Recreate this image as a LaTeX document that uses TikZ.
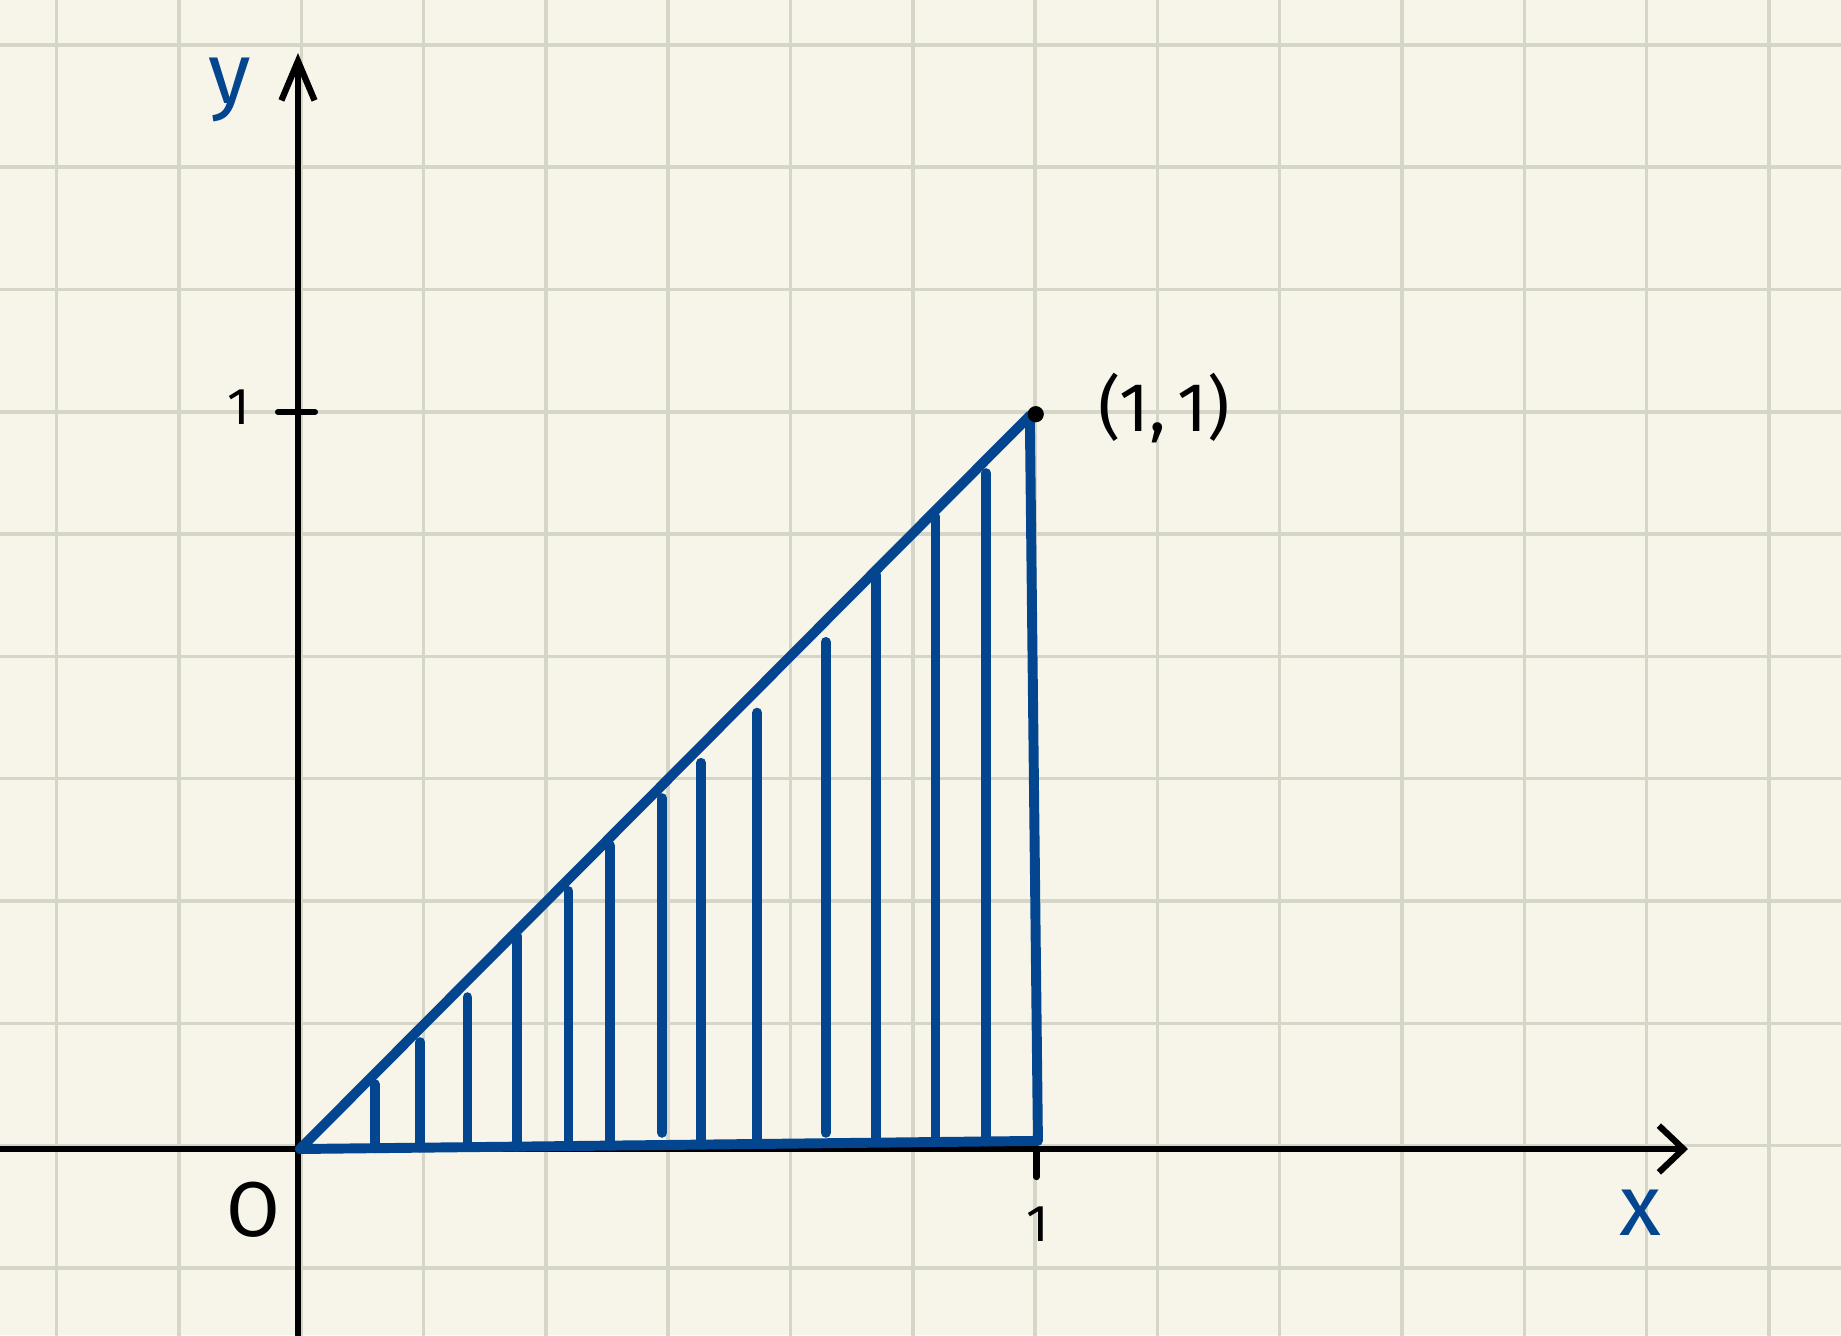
\documentclass[tikz,border=0pt]{standalone}
\usepackage{fontspec}
\setmainfont{Fira Sans}
\usetikzlibrary{arrows.meta}
\definecolor{paper}{HTML}{F7F5EA}
\definecolor{gridgray}{HTML}{D6D6C8}
\definecolor{inkblue}{HTML}{03468F}

\begin{document}
\begin{tikzpicture}[x=6cm,y=6cm,
    gridline/.style={gridgray, line width=0.8pt},
    axis/.style={black, line width=1.45pt, line cap=round, line join=round},
    region/.style={inkblue, line width=2.3pt, line cap=round, line join=round},
    hatch/.style={inkblue, line width=2.3pt, line cap=round},
    ink/.style={black, font=\fontsize{12}{14}\selectfont},
    bluelabel/.style={inkblue, font=\fontsize{20}{24}\selectfont}]
\pgfmathsetmacro{\xmin}{-0.4043}
\pgfmathsetmacro{\xmax}{2.0936}
\pgfmathsetmacro{\ymin}{-0.2524}
\pgfmathsetmacro{\ymax}{1.559}

\coordinate (O) at (0,0);
\coordinate (A) at (0.0027,0);
\coordinate (T) at (0.993,0.995);
\coordinate (R) at (1.004,0.011);
\coordinate (P) at (1.001,0.997);

% Paper and grid
\useasboundingbox (\xmin,\ymin) rectangle (\xmax,\ymax);
\fill[paper] (\xmin,\ymin) rectangle (\xmax,\ymax);
\begin{scope}
\clip (\xmin,\ymin) rectangle (\xmax,\ymax);
\draw[gridline, shift={(0.0045,0.0045)}, step=0.9957cm] (-0.6,-0.5) grid (2.3,1.7);
\end{scope}

% Coordinate axes and ticks
\draw[axis, -{Straight Barb[length=2mm,width=3.8mm]}] (\xmin,0) -- (1.886,0);
\draw[axis, -{Straight Barb[length=3.2mm,width=2.7mm]}] (0,\ymin) -- (0,1.487);
\draw[axis] (-0.027,1) -- (0.023,1);
\draw[axis] (1.002,0) -- (1.002,-0.038);

% Triangle and vertical strips
\draw[region] (A) -- (T) -- (R) -- cycle;
\draw[hatch] (0.104,0.088) -- (0.104,0.001);
\draw[hatch] (0.166,0.145) -- (0.166,0.002);
\draw[hatch] (0.230,0.206) -- (0.230,0.003);
\draw[hatch] (0.297,0.289) -- (0.297,0.003);
\draw[hatch] (0.367,0.350) -- (0.367,0.004);
\draw[hatch] (0.423,0.412) -- (0.423,0.005);
\draw[hatch] (0.494,0.476) -- (0.494,0.022);
\draw[hatch] (0.547,0.524) -- (0.547,0.006);
\draw[hatch] (0.623,0.592) -- (0.623,0.007);
\draw[hatch] (0.716,0.688) -- (0.716,0.022);
\draw[hatch] (0.784,0.779) -- (0.784,0.009);
\draw[hatch] (0.865,0.858) -- (0.865,0.010);
\draw[hatch] (0.934,0.917) -- (0.934,0.010);
\fill[black] (P) circle (0.011);

% Labels
\node[bluelabel] (ylab) at (-0.092,1.437) {y};
\node[ink] (onelefty) at (-0.081,1.007) {1};
\node[ink, font=\fontsize{18}{20}\selectfont] (olab) at (-0.061,-0.083) {O};
\node[ink] (onebelowx) at (1.004,-0.102) {1};
\node[bluelabel] (xlab) at (1.821,-0.087) {x};
\node[ink, font=\fontsize{16}{18}\selectfont] (plab) at (1.175,1.005) {(1,\,1)};
\end{tikzpicture}
\end{document}
